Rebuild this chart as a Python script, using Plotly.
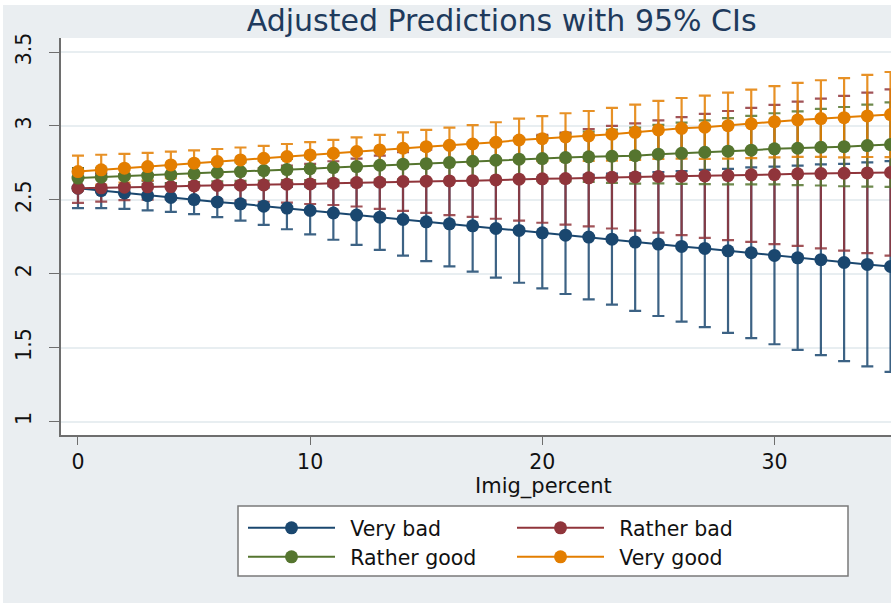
import plotly.graph_objects as go

# Predicted outcome by immigrant share, with 95% confidence intervals
imig_percent = list(range(36))

very_bad = [2.579, 2.563, 2.547, 2.529, 2.516, 2.502, 2.486, 2.473, 2.457, 2.444,
            2.428, 2.411, 2.397, 2.383, 2.367, 2.351, 2.338, 2.324, 2.306, 2.293,
            2.277, 2.261, 2.248, 2.234, 2.214, 2.201, 2.185, 2.171, 2.155, 2.142,
            2.124, 2.108, 2.095, 2.076, 2.063, 2.049]
very_bad_ci = [0.135, 0.119, 0.108, 0.100, 0.097, 0.098, 0.103, 0.113, 0.126, 0.143,
               0.162, 0.181, 0.201, 0.222, 0.244, 0.266, 0.288, 0.310, 0.332, 0.354,
               0.376, 0.398, 0.421, 0.443, 0.465, 0.487, 0.509, 0.532, 0.555, 0.578,
               0.601, 0.623, 0.645, 0.667, 0.690, 0.713]

rather_bad = [2.579, 2.581, 2.586, 2.588, 2.590, 2.595, 2.597, 2.599, 2.601, 2.606,
              2.608, 2.613, 2.617, 2.619, 2.624, 2.626, 2.628, 2.630, 2.635, 2.640,
              2.642, 2.644, 2.649, 2.653, 2.655, 2.658, 2.660, 2.662, 2.664, 2.669,
              2.671, 2.676, 2.678, 2.680, 2.682, 2.685]
rather_bad_ci = [0.100, 0.093, 0.088, 0.086, 0.087, 0.090, 0.096, 0.104, 0.114, 0.125,
                 0.136, 0.148, 0.162, 0.180, 0.198, 0.214, 0.231, 0.245, 0.263, 0.280,
                 0.297, 0.311, 0.329, 0.347, 0.363, 0.380, 0.399, 0.419, 0.437, 0.453,
                 0.471, 0.488, 0.507, 0.523, 0.543, 0.563]

rather_good = [2.647, 2.653, 2.660, 2.664, 2.671, 2.678, 2.685, 2.691, 2.698, 2.705,
               2.711, 2.718, 2.725, 2.734, 2.741, 2.745, 2.752, 2.761, 2.768, 2.775,
               2.779, 2.786, 2.791, 2.795, 2.799, 2.809, 2.815, 2.822, 2.829, 2.836,
               2.845, 2.849, 2.856, 2.860, 2.867, 2.874]
rather_good_ci = [0.068, 0.064, 0.060, 0.058, 0.057, 0.058, 0.060, 0.063, 0.067, 0.072,
                  0.077, 0.083, 0.089, 0.096, 0.103, 0.110, 0.118, 0.126, 0.134, 0.143,
                  0.152, 0.161, 0.170, 0.180, 0.189, 0.198, 0.207, 0.215, 0.224, 0.232,
                  0.241, 0.250, 0.259, 0.268, 0.277, 0.286]

very_good = [2.691, 2.703, 2.714, 2.725, 2.736, 2.748, 2.759, 2.770, 2.781, 2.793,
             2.804, 2.815, 2.827, 2.838, 2.849, 2.860, 2.869, 2.878, 2.889, 2.905,
             2.914, 2.926, 2.932, 2.944, 2.957, 2.973, 2.984, 2.991, 3.002, 3.014,
             3.029, 3.041, 3.050, 3.056, 3.068, 3.077]
very_good_ci = [0.108, 0.102, 0.097, 0.093, 0.090, 0.087, 0.085, 0.084, 0.084, 0.085,
                0.087, 0.091, 0.096, 0.101, 0.107, 0.113, 0.120, 0.128, 0.136, 0.144,
                0.152, 0.160, 0.169, 0.178, 0.187, 0.196, 0.205, 0.214, 0.223, 0.232,
                0.241, 0.250, 0.259, 0.268, 0.278, 0.288]

series_names = ["Very bad", "Rather bad", "Rather good", "Very good"]
series_values = [very_bad, rather_bad, rather_good, very_good]
series_ci = [very_bad_ci, rather_bad_ci, rather_good_ci, very_good_ci]
series_colors = ["#1A476F", "#90353B", "#55752F", "#E37E00"]
series_ci_colors = ["rgba(26,71,111,0.85)", "rgba(144,53,59,0.85)",
                    "rgba(85,117,47,0.85)", "rgba(227,126,0,0.85)"]
series_legend = ["legend", "legend", "legend2", "legend2"]

y_ticks = [1, 1.5, 2, 2.5, 3, 3.5]
y_tick_text = ["1", "1.5", "2", "2.5", "3", "3.5"]
x_ticks = [0, 10, 20, 30]

BG = "#EAEEF1"
FONT = "DejaVu Sans, Liberation Sans, Arial, sans-serif"
EN_SPACE = "\u2002"

fig = go.Figure()

# confidence-interval caps first, so every series line sits on top of them
for vals, ci, col in zip(series_values, series_ci, series_ci_colors):
    fig.add_trace(go.Scatter(
        x=imig_percent, y=vals, mode="markers",
        marker=dict(size=1, color="rgba(0,0,0,0)"),
        error_y=dict(type="data", array=ci, symmetric=True,
                     color=col, thickness=2.2, width=6),
        showlegend=False, hoverinfo="skip",
    ))

for name, vals, col, leg in zip(series_names, series_values, series_colors, series_legend):
    fig.add_trace(go.Scatter(
        x=imig_percent, y=vals, mode="lines+markers", name=EN_SPACE + name,
        line=dict(color=col, width=2),
        marker=dict(color=col, size=13, symbol="circle"),
        legend=leg,
    ))

L, R, T, B = 61, 0, 38, 168
W, H = 891, 603
pw, ph = W - L - R, H - T - B


def px_x(p):
    return (p - L) / pw


def px_y(p):
    return 1 - (p - T) / ph


legend_common = dict(
    orientation="h", xanchor="left", yanchor="middle",
    bgcolor="rgba(0,0,0,0)", borderwidth=0,
    font=dict(family=FONT, size=20.5, color="#111111"),
    itemwidth=87, entrywidth=167, itemclick=False, itemdoubleclick=False,
)

fig.update_layout(
    width=W, height=H,
    margin=dict(l=L, r=R, t=T, b=B, pad=0),
    paper_bgcolor=BG, plot_bgcolor="white",
    font=dict(family=FONT, color="#111111"),
    title=dict(text="Adjusted Predictions with 95% CIs",
               x=0.563, xanchor="center", y=1 - 20 / H, yanchor="middle",
               font=dict(family=FONT, size=30, color="#1E3A5C")),
    xaxis=dict(range=[-0.732, 35.02], tickvals=x_ticks, showgrid=False,
               zeroline=False, showline=True, linecolor="#6E6E6E", linewidth=1.5,
               ticks="outside", ticklen=8, tickwidth=1.2, tickcolor="#6E6E6E",
               tickfont=dict(size=20.5, color="#111111")),
    yaxis=dict(range=[0.909, 3.595], tickvals=y_ticks, ticktext=y_tick_text,
               tickangle=-90, showgrid=True, gridcolor="#E8EEF1", gridwidth=2,
               zeroline=False, showline=True, linecolor="#6E6E6E", linewidth=1.5,
               ticks="outside", ticklen=10, tickwidth=1.2, tickcolor="#6E6E6E",
               ticklabelstandoff=10,
               tickfont=dict(size=20.5, color="#111111")),
    legend=dict(x=px_x(243), y=px_y(528), **legend_common),
    legend2=dict(x=px_x(243), y=px_y(557), **legend_common),
    showlegend=True,
    annotations=[dict(text="Imig_percent", xref="paper", yref="paper",
                      x=px_x(543), y=px_y(486), xanchor="center", yanchor="middle",
                      showarrow=False, font=dict(family=FONT, size=21, color="#111111"))],
    shapes=[
        # legend frame
        dict(type="rect", xref="paper", yref="paper", layer="below",
             x0=px_x(238), x1=px_x(848), y0=px_y(576), y1=px_y(506),
             fillcolor="white", line=dict(color="#7A7A7A", width=1.5)),
        # thin white page border on the top and left edges
        dict(type="rect", xref="paper", yref="paper", layer="above",
             x0=px_x(-5), x1=px_x(3), y0=px_y(610), y1=px_y(-5),
             fillcolor="white", line=dict(width=0)),
        dict(type="rect", xref="paper", yref="paper", layer="above",
             x0=px_x(-5), x1=px_x(900), y0=px_y(5), y1=px_y(-5),
             fillcolor="white", line=dict(width=0)),
    ],
)

fig.write_html("out.html")
